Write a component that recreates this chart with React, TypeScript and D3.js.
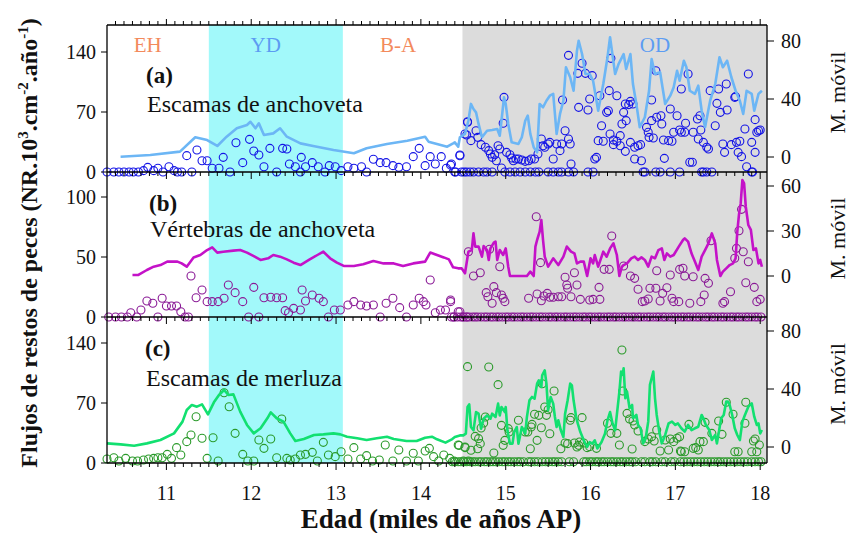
import React from "react";
import * as d3 from "d3";

// edad (miles de años AP)
const ageTicks = [11, 12, 13, 14, 15, 16, 17, 18];
const leftTicksA = [0, 70, 140];
const rightTicksA = [0, 40, 80];
const leftTicksB = [0, 50, 100];
const rightTicksB = [0, 30, 60];
const leftTicksC = [0, 70, 140];
const rightTicksC = [0, 40, 80];

const zoneNames = ["EH", "YD", "B-A", "OD"];
const ydSpan = [11.5, 13.08];
const odSpan = [14.49, 18.08];

// (a) escamas de anchoveta: flujo [edad, valor]
const fluxA: [number, number][] = [
  [10.3, 0], [10.38, 0], [10.44, 0], [10.5, 0], [10.56, 0], [10.61, 0], [10.67, 0], [10.73, 1.6],
  [10.78, 5.4], [10.85, 1.6], [10.9, 4.3], [10.96, 0], [11.03, 6.2], [11.09, 1.6], [11.13, 0],
  [11.18, 0], [11.24, 19.1], [11.3, 0], [11.36, 25.7], [11.42, 13.2], [11.48, 13.2], [11.54, 4.3],
  [11.62, 4.3], [11.67, 17.1], [11.75, 0], [11.82, 34.2], [11.9, 10.9], [11.98, 38.1], [12.03, 24.5],
  [12.09, 19.8], [12.15, 6.2], [12.22, 27.6], [12.3, 0], [12.37, 27.6], [12.42, 26.8], [12.45, 9.3],
  [12.52, 6.2], [12.58, 0], [12.59, 17.1], [12.64, 6.2], [12.72, 10.9], [12.79, 6.2], [12.87, 0],
  [12.92, 7.4], [12.99, 6.2], [13.06, 1.6], [13.14, 6.2], [13.21, 4.3], [13.3, 6.2], [13.36, 0],
  [13.44, 14.8], [13.52, 10.9], [13.59, 10.9], [13.67, 7.4], [13.74, 5.4], [13.83, 6.2], [13.91, 17.9],
  [13.98, 27.6], [14.05, 7.4], [14.11, 17.9], [14.17, 9.3], [14.24, 17.9], [14.3, 4.3], [14.36, 9.3],
  [14.41, 0], [14.46, 19.8], [14.51, 0], [14.54, 43.2], [14.55, 58.7],
  [14.46, 19], [14.55, 58], [14.52, 44.3], [14.59, 36.6], [14.65, 48.2], [14.67, 40.4], [14.71, 31.9],
  [14.76, 28.8], [14.8, 24.9], [14.82, 21], [14.84, 17.1], [14.87, 20.2], [14.89, 13.2], [14.91, 30.7],
  [14.93, 26.8], [14.97, 56.8], [14.98, 87.1], [14.95, 4.7], [15.01, 22.9], [15.05, 20.2], [15.07, 16.3],
  [15.09, 13.2], [15.12, 15.2], [15.15, 15.2], [15.19, 14], [15.23, 12.4], [15.27, 13.2], [15.3, 15.2],
  [15.34, 15.2], [15.38, 21], [15.42, 38.5], [15.44, 30.7], [15.46, 28.8], [15.5, 32.7], [15.52, 34.6],
  [15.56, 15.2], [15.6, 32.7], [15.64, 24.9], [15.66, 32.7], [15.7, 48.2], [15.74, 38.5], [15.76, 32.7],
  [15.77, 9.3], [15.67, 84], [15.74, 136.1], [15.86, 75.4], [15.85, 115.1], [15.9, 126.8], [15.94, 115.1],
  [15.97, 72.3], [15.99, 85.2], [16.02, 112.4], [16.05, 15.2], [16.07, 17.1], [16.09, 36.6], [16.11, 89],
  [16.13, 54], [16.15, 35.8], [16.19, 69.6], [16.21, 71.5], [16.22, 94.9], [16.23, 44.3], [16.24, 132.6],
  [16.27, 31.9], [16.31, 89], [16.41, 79.3], [16.45, 78.6], [16.47, 82.4], [16.5, 79.3], [16.39, 69.6],
  [16.42, 59.9], [16.37, 56], [16.35, 42.4], [16.27, 37.3], [16.31, 35.8], [16.35, 30.7], [16.41, 24.1],
  [16.47, 34.6], [16.52, 28.8], [16.56, 30.7], [16.59, 31.9], [16.52, 15.2], [16.6, 13.2], [16.66, 52.1],
  [16.68, 46.3], [16.69, 40.4], [16.74, 39.7], [16.72, 59.9], [16.78, 63.8], [16.83, 65.7], [16.84, 56],
  [16.86, 37.3], [16.92, 36.6], [16.94, 73.5], [16.96, 35.8], [16.87, 15.9], [16.98, 46.3], [17.02, 65.7],
  [17.05, 49], [17.07, 46.3], [17.12, 56.8], [17.11, 46.3], [17.17, 11.3], [17.2, 11.3], [17.21, 46.3],
  [17.26, 61.8], [17.29, 65.7], [17.27, 38.5], [17.3, 49], [17.33, 34.6], [17.37, 28.8], [17.39, 26.8],
  [17.15, 114.3], [17.07, 96.8], [16.72, 84], [16.77, 118.2], [17.49, 80.1], [17.47, 54], [17.41, 94.9],
  [17.51, 96.8], [17.53, 69.6], [17.6, 102.7], [17.61, 72.3], [17.66, 31.9], [17.7, 87.1], [17.71, 87.9],
  [17.56, 32.7], [17.58, 22.9], [17.72, 34.6], [17.76, 35.8], [17.82, 50.2], [17.86, 114.3], [17.9, 34.6],
  [17.94, 61.1], [17.96, 46.3], [17.98, 48.2], [18.0, 49], [17.74, 22.9], [17.78, 17.9], [17.84, 6.2],
  [17.94, 22.9], [14.35, 8],
];
const zeroAgesA = [
  14.4, 14.48, 14.54, 14.58, 14.62, 14.68, 14.74, 14.78, 14.84, 14.99, 15.05, 15.11, 15.17, 15.23,
  15.29, 15.35, 15.39, 15.5, 15.56, 15.62, 15.66, 15.74, 15.8, 15.97, 16.03, 16.62, 16.64, 16.77,
  16.82, 16.94, 17.05, 17.31, 17.33, 17.37, 17.43, 17.9, 17.91,
];
// (a) media móvil [edad, valor]
const movilA: [number, number][] = [
  [10.46, 0.2], [10.81, 1.4], [11.16, 3.7], [11.34, 13.6], [11.48, 11.7], [11.6, 7.6], [11.71, 14],
  [11.83, 19.8], [11.95, 22.1], [11.99, 24.3], [12.05, 19.8], [12.09, 23.2], [12.15, 15.2], [12.26, 16.3],
  [12.34, 19.8], [12.42, 14], [12.58, 9.4], [12.73, 7.6], [12.97, 4.8], [13.21, 2.6], [13.36, 6],
  [13.6, 9], [13.84, 11.2], [14.05, 14], [14.09, 10.6], [14.31, 7.1], [14.38, 9.4], [14.4, 10.1],
  [14.44, 7.1], [14.46, 13.6], [14.52, 15.9], [14.56, 25], [14.59, 36.6], [14.62, 33.1], [14.65, 30.8],
  [14.68, 22.8], [14.72, 13.6], [14.78, 18.1], [14.84, 18.6], [14.9, 19.3], [14.93, 14.7], [14.95, 25],
  [14.98, 41.2], [15.0, 36.6], [15.03, 22.8], [15.07, 10.1], [15.15, 9], [15.19, 13.6], [15.23, 25],
  [15.26, 28.5], [15.29, 15.9], [15.33, 6.7], [15.37, 3.2], [15.4, 36.6], [15.44, 34.3], [15.48, 38.8],
  [15.52, 42.3], [15.56, 43.5], [15.6, 15.9], [15.64, 29.7], [15.68, 38.8], [15.71, 61.9], [15.76, 55],
  [15.8, 45.7], [15.84, 73.3], [15.86, 80.2], [15.9, 71], [15.94, 57.2], [15.99, 57.2], [16.03, 52.6],
  [16.09, 31.9], [16.15, 50.3], [16.2, 68.8], [16.23, 82.6], [16.29, 57.2], [16.33, 64.1], [16.39, 71],
  [16.42, 60.7], [16.47, 71], [16.5, 50.3], [16.54, 36.6], [16.58, 20.5], [16.64, 27.4], [16.69, 45.7],
  [16.72, 67.6], [16.76, 57.2], [16.82, 58.4], [16.88, 36.6], [16.94, 42.3], [16.98, 48.1], [17.02, 59.5],
  [17.05, 52.6], [17.1, 66.4], [17.13, 61.9], [17.17, 45.7], [17.23, 43.5], [17.27, 49.2], [17.31, 31.9],
  [17.35, 20.5], [17.41, 38.8], [17.47, 50.3], [17.52, 68.8], [17.56, 61.9], [17.61, 66.4], [17.66, 55],
  [17.71, 45.7], [17.76, 38.8], [17.8, 29.7], [17.84, 45.7], [17.9, 43.5], [17.93, 31.9], [17.98, 43.5],
  [18.02, 45.7],
];

// (b) vértebras de anchoveta
const fluxB: [number, number][] = [
  [10.32, 0], [10.4, 0], [10.47, 0], [10.54, 0], [10.58, 3.6], [10.65, 0], [10.7, 5.8], [10.77, 13.3],
  [10.84, 11.4], [10.9, 0], [10.95, 15.6], [11.0, 9.2], [11.06, 9.2], [11.12, 9.2], [11.17, 4.4],
  [11.22, 0], [11.26, 0], [11.29, 34.2], [11.35, 16.1], [11.42, 22.5], [11.48, 12.8], [11.54, 12.8],
  [11.61, 12.8], [11.68, 15.6], [11.73, 26.7], [11.81, 20.3], [11.9, 12.8], [11.97, 0], [12.03, 24.7],
  [12.09, 0], [12.15, 16.1], [12.23, 16.4], [12.3, 16.1], [12.37, 16.1], [12.4, 5.3], [12.44, 3.6],
  [12.5, 7.2], [12.58, 5.8], [12.6, 22.5], [12.64, 13.3], [12.72, 18.3], [12.8, 15.6], [12.85, 12.8],
  [12.91, 0], [12.98, 5.8], [13.05, 5.8], [13.14, 10], [13.21, 12.8], [13.29, 10], [13.36, 9.2],
  [13.44, 10], [13.52, 0], [13.59, 11.4], [13.67, 15.6], [13.75, 7.8], [13.83, 0], [13.91, 10],
  [13.98, 15.6], [14.03, 12.8], [14.06, 10], [14.11, 30.8], [14.17, 3.6], [14.23, 5.8], [14.29, 5.8],
  [14.35, 12.8], [14.39, 0], [14.44, 4.4], [14.5, 0], [14.54, 0],
  [14.35, 14.2], [14.46, 4.4], [14.56, 54.4], [14.62, 34.2], [14.7, 36.9], [14.77, 20.3], [14.79, 16.9],
  [14.84, 11.4], [14.86, 25.3], [14.89, 20.3], [14.93, 41.9], [14.95, 18.3], [14.97, 15.6], [14.99, 12.8],
  [14.81, 56.4], [15.27, 15.6], [15.36, 83.6], [15.41, 45.3], [15.37, 19.2], [15.42, 13.6], [15.45, 17.5],
  [15.49, 19.7], [15.52, 16.4], [15.56, 16.4], [15.62, 16.9], [15.66, 16.9], [15.7, 33.1], [15.72, 26.7],
  [15.73, 23.9], [15.77, 16.9], [15.81, 36.9], [15.84, 26.7], [15.88, 14.7], [15.99, 14.2], [16.03, 14.7],
  [16.11, 14.7], [16.1, 24.7], [16.16, 39.7], [16.22, 39.7], [16.25, 67.5], [16.39, 42.5], [16.47, 34.2],
  [16.52, 32.2], [16.56, 23.1], [16.61, 12.8], [16.64, 13.3], [16.68, 15], [16.7, 23.9], [16.77, 23.9],
  [16.78, 38.6], [16.82, 13.3], [16.85, 19.7], [16.9, 24.4], [16.94, 35], [16.96, 15.6], [16.98, 12.8],
  [17.04, 12.8], [17.05, 39.7], [17.09, 40.6], [17.11, 34.2], [17.17, 11.4], [17.21, 33.6], [17.3, 12.8],
  [17.34, 18.3], [17.35, 32.2], [17.39, 28.1], [17.42, 63.6], [17.56, 11.4], [17.58, 12.8], [17.65, 21.1],
  [17.7, 48.9], [17.72, 57.2], [17.75, 71.9], [17.78, 89.7], [17.8, 54.4], [17.86, 46.1], [17.83, 28.6],
  [17.93, 24.7], [17.96, 12.8], [18.0, 14.7],
];
const zeroAgesB = [
  14.36, 14.39, 14.43, 14.47, 14.5, 14.54, 14.57, 14.61, 14.64, 14.67, 14.71, 14.75, 14.78, 14.82,
  14.85, 14.89, 14.92, 14.96, 15.0, 15.03, 15.07, 15.1, 15.14, 15.18, 15.21, 15.25, 15.29, 15.32,
  15.36, 15.4, 15.43, 15.47, 15.51, 15.54, 15.58, 15.61, 15.65, 15.69, 15.72, 15.76, 15.8, 15.83,
  15.87, 15.91, 15.94, 15.98, 16.01, 16.05, 16.09, 16.12, 16.16, 16.2, 16.23, 16.27, 16.3, 16.34,
  16.38, 16.41, 16.45, 16.49, 16.52, 16.56, 16.59, 16.63, 16.67, 16.7, 16.74, 16.78, 16.81, 16.85,
  16.88, 16.92, 16.96, 16.99, 17.03, 17.07, 17.1, 17.14, 17.17, 17.21, 17.25, 17.28, 17.32, 17.36,
  17.39, 17.43, 17.46, 17.5, 17.54, 17.57, 17.61, 17.65, 17.68, 17.72, 17.75, 17.79, 17.83, 17.86,
  17.9, 17.94, 17.97, 18.01,
];
const movilB: [number, number][] = [
  [10.6, 0.7], [10.67, 0.7], [10.77, 4], [10.85, 6.2], [10.93, 7.3], [11.01, 9.6], [11.13, 9.6],
  [11.18, 8.4], [11.24, 6.2], [11.32, 12.4], [11.4, 14], [11.48, 17.3], [11.54, 19.1], [11.6, 15.6],
  [11.67, 16.2], [11.79, 16.9], [11.87, 17.3], [11.95, 15.6], [12.03, 13.3], [12.11, 10.7], [12.2, 11.8],
  [12.26, 14], [12.34, 12.9], [12.42, 11.1], [12.5, 8.9], [12.58, 7.3], [12.68, 10.7], [12.78, 14],
  [12.85, 16.2], [12.93, 11.8], [13.01, 8.9], [13.09, 6.7], [13.21, 6.7], [13.32, 7.8], [13.44, 10],
  [13.56, 8.4], [13.68, 8.4], [13.79, 6.7], [13.91, 8.4], [14.05, 9.6], [14.11, 15.6], [14.19, 14],
  [14.27, 12.4], [14.33, 11.1], [14.38, 5.8], [14.44, 5.1], [14.48, 5.1], [14.52, 1.8], [14.56, 16.2],
  [14.6, 17.3], [14.62, 28.4], [14.64, 19.6], [14.68, 19.6], [14.72, 12.9], [14.74, 20], [14.78, 17.3],
  [14.8, 10.7], [14.82, 18.4], [14.86, 22.2], [14.88, 22.9], [14.9, 10.7], [14.93, 17.3], [14.97, 14],
  [15.0, 18.4], [15.03, 6.2], [15.05, 0], [15.13, 0], [15.25, 0], [15.29, 2.9], [15.33, 0], [15.35, 19.6],
  [15.37, 24], [15.4, 29.6], [15.42, 37.3], [15.44, 24], [15.46, 12.9], [15.5, 6.2], [15.56, 11.8],
  [15.62, 7.3], [15.68, 12.9], [15.72, 19.6], [15.77, 16.2], [15.81, 15.1], [15.84, 8.4], [15.88, 9.6],
  [15.92, 9.6], [15.96, 0], [16.0, 11.8], [16.03, 8.4], [16.05, 14], [16.09, 6.2], [16.15, 16.2],
  [16.19, 12.9], [16.23, 18.4], [16.27, 21.8], [16.31, 14], [16.34, 0], [16.37, 6.2], [16.39, 7.3],
  [16.43, 8.4], [16.48, 11.8], [16.52, 12.9], [16.56, 10.7], [16.6, 12.4], [16.64, 10.7], [16.68, 6.2],
  [16.72, 12.9], [16.76, 11.8], [16.8, 17.3], [16.84, 18.4], [16.87, 10.7], [16.9, 15.1], [16.94, 12.9],
  [16.98, 14], [17.04, 19.6], [17.09, 24], [17.11, 25.1], [17.15, 22.9], [17.19, 15.1], [17.23, 9.6],
  [17.27, 4], [17.31, 12.9], [17.35, 17.3], [17.39, 21.8], [17.43, 28.4], [17.47, 21.8], [17.49, 10.7],
  [17.53, 0], [17.56, 2.9], [17.6, 5.1], [17.64, 7.3], [17.68, 8.4], [17.71, 11.8], [17.73, 29.6],
  [17.75, 41.1], [17.77, 48.4], [17.79, 64], [17.81, 61.8], [17.83, 46.2], [17.86, 34], [17.89, 30.7],
  [17.92, 17.3], [17.95, 18.4], [17.98, 8.4], [18.0, 10.7], [18.02, 6.2],
];

// (c) escamas de merluza
const fluxC: [number, number][] = [
  [10.3, 4.7], [10.38, 6.2], [10.44, 2.3], [10.52, 5.4], [10.6, 2.3], [10.66, 2.3], [10.73, 3.5],
  [10.79, 4.7], [10.85, 5.4], [10.9, 6.2], [10.95, 6.2], [11.01, 10.1], [11.06, 5.4], [11.12, 17.9],
  [11.17, 9.3], [11.24, 24.9], [11.29, 32.7], [11.35, 54], [11.42, 28.8], [11.48, 5.4], [11.55, 29.5],
  [11.61, 2.3], [11.68, 82], [11.74, 65.7], [11.81, 34.6], [11.9, 10.1], [11.96, 2.3], [12.03, 2.3],
  [12.09, 26.8], [12.15, 17.1], [12.23, 28], [12.3, 6.2], [12.36, 51.3], [12.42, 5.4], [12.46, 3.5],
  [12.52, 4.7], [12.58, 9.3], [12.64, 10.1], [12.72, 12.4], [12.78, 2.3], [12.85, 24.1], [12.91, 9.3],
  [12.99, 7.4], [13.06, 13.2], [13.14, 4.7], [13.21, 17.9], [13.29, 4.7], [13.36, 8.6], [13.43, 2.3],
  [13.51, 3.5], [13.58, 21], [13.67, 2.3], [13.74, 15.2], [13.83, 2.3], [13.91, 11.3], [13.97, 2.3],
  [14.05, 14], [14.1, 17.1], [14.15, 7.4], [14.21, 2.3], [14.27, 9.3], [14.34, 5.4], [14.39, 2.3],
  [14.44, 21], [14.5, 2.3], [14.52, 17.9], [14.55, 112.4], [14.56, 2.3],
  [14.8, 112], [14.91, 91.4], [14.45, 20.6], [14.52, 18.7], [14.59, 14.8], [14.67, 16.7], [14.7, 22.6],
  [14.68, 28.4], [14.64, 31.1], [14.71, 40.8], [14.76, 53.7], [14.74, 46.7], [14.95, 43.9], [14.99, 26.4],
  [14.97, 20.6], [15.03, 40.1], [15.04, 36.2], [14.86, 11.7], [15.15, 49.8], [15.23, 36.2], [15.26, 36.2],
  [15.3, 42], [15.31, 45.1], [15.34, 56.8], [15.29, 16.7], [15.37, 26.4], [15.39, 55.6], [15.42, 41.2],
  [15.43, 92.5], [15.46, 65.3], [15.48, 55.6], [15.5, 62.2], [15.52, 34.2], [15.57, 84], [15.65, 16.7],
  [15.7, 23.3], [15.73, 22.6], [15.77, 52.9], [15.76, 49.8], [15.81, 23.3], [15.84, 18.7], [15.86, 20.6],
  [15.87, 24.5], [15.9, 52.9], [15.92, 23.3], [15.96, 17.9],
  [15.99, 19.1], [16.07, 17.1], [16.2, 46.3], [16.24, 34.6], [16.31, 34.6], [16.34, 21], [16.37, 131.8],
  [16.38, 84], [16.43, 57.9], [16.46, 51.3], [16.49, 16.3], [16.5, 49], [16.52, 44.3], [16.56, 37.3],
  [16.64, 24.9], [16.68, 28], [16.72, 30.7], [16.75, 25.7], [16.78, 38.5], [16.82, 14], [16.92, 15.2],
  [16.88, 26.8], [16.94, 28], [16.98, 24.9], [17.02, 28.8], [17.05, 30.7], [17.06, 14], [17.07, 13.2],
  [17.11, 13.2], [17.16, 45.1], [17.21, 17.1], [17.24, 17.9], [17.27, 15.2], [17.29, 24.9], [17.33, 24.9],
  [17.35, 47.4], [17.43, 34.6], [17.51, 49], [17.55, 33.4], [17.6, 70.8], [17.68, 56.8], [17.7, 13.2],
  [17.74, 13.2], [17.82, 46.3], [17.83, 70.8], [17.9, 13.2], [17.92, 25.7], [17.94, 28], [17.96, 13.2],
  [17.99, 21],
];
const zeroAgesC = [
  14.37, 14.4, 14.44, 14.47, 14.51, 14.54, 14.58, 14.61, 14.64, 14.68, 14.71, 14.75, 14.78, 14.82,
  14.85, 14.88, 14.92, 14.96, 14.99, 15.03, 15.06, 15.1, 15.14, 15.17, 15.21, 15.27, 15.3, 15.34,
  15.38, 15.43, 15.47, 15.51, 15.55, 15.58, 15.62, 15.66, 15.75, 15.8, 15.92, 15.95, 15.99, 16.02,
  16.06, 16.09, 16.13, 16.16, 16.2, 16.24, 16.27, 16.31, 16.35, 16.38, 16.42, 16.46, 16.49, 16.53,
  16.6, 16.64, 16.7, 16.73, 16.77, 16.84, 16.88, 16.95, 16.99, 17.06, 17.1, 17.14, 17.18, 17.22,
  17.26, 17.3, 17.34, 17.38, 17.42, 17.46, 17.5, 17.53, 17.57, 17.61, 17.65, 17.69, 17.73, 17.77,
  17.81, 17.85, 17.9, 17.94, 17.98, 18.01,
];
const movilC: [number, number][] = [
  [10.3, 2.5], [10.46, 1.8], [10.62, 0.9], [10.77, 2.5], [10.93, 4.8], [11.09, 9.4], [11.19, 17.5],
  [11.24, 25.5], [11.3, 29], [11.36, 27.8], [11.42, 29.4], [11.49, 22.5], [11.56, 30.8], [11.62, 35.9],
  [11.68, 39.3], [11.73, 35.9], [11.79, 36.3], [11.87, 24.4], [11.95, 15.2], [12.03, 9.4], [12.11, 12.9],
  [12.19, 19.8], [12.23, 23.9], [12.3, 19.8], [12.38, 17.5], [12.46, 9.4], [12.52, 4.1], [12.62, 5.5],
  [12.74, 8.3], [12.85, 8.7], [12.97, 9.4], [13.05, 8.7], [13.13, 7.1], [13.25, 6], [13.36, 4.8],
  [13.48, 6], [13.6, 7.1], [13.68, 5.5], [13.83, 4.1], [13.95, 4.1], [14.05, 6.4], [14.13, 7.1],
  [14.19, 5.3], [14.29, 3], [14.37, 5.5], [14.4, 6.9], [14.46, 8], [14.5, 8], [14.53, 9.2], [14.55, 27.6],
  [14.57, 29.4], [14.59, 13.8], [14.62, 11.5], [14.65, 24.1], [14.68, 23], [14.71, 12.6], [14.74, 19.5],
  [14.78, 21.8], [14.82, 19.5], [14.84, 23], [14.88, 20.7], [14.91, 29.9], [14.93, 21.8], [14.95, 27.6],
  [14.99, 24.1], [15.0, 27.6], [15.02, 11.5], [15.05, 2.3], [15.08, 2.3], [15.1, 10.3], [15.13, 13.8],
  [15.15, 2.3], [15.17, 8], [15.19, 13.8], [15.23, 9.2], [15.25, 20.7], [15.28, 32.2], [15.31, 34.5],
  [15.34, 33.3], [15.37, 43.7], [15.39, 46], [15.42, 41.4], [15.43, 49.4], [15.46, 52.9], [15.48, 43.7],
  [15.5, 25.3], [15.53, 34.5], [15.56, 29.9], [15.58, 20.7], [15.6, 13.8], [15.62, 18.4], [15.65, 11.5],
  [15.68, 6.9], [15.7, 23], [15.73, 32.2], [15.76, 43.7], [15.78, 42.5], [15.8, 32.2], [15.83, 20.7],
  [15.85, 16.1], [15.88, 10.3], [15.92, 4.6], [15.96, 0], [15.99, 3.4], [16.02, 2.3], [16.05, 4.6],
  [16.08, -1], [16.13, 3.4], [16.17, 9.2], [16.2, 18.4], [16.23, 24.1], [16.26, 16.1], [16.29, 11.5],
  [16.31, 22.1], [16.34, 38.2], [16.36, 52], [16.38, 49.7], [16.39, 54.3], [16.41, 33.6], [16.43, 38.2],
  [16.46, 26.7], [16.49, 29], [16.5, 19.8], [16.54, 22.1], [16.56, 15.2], [16.59, 12.9], [16.62, 2.5],
  [16.65, 6], [16.68, 17.5], [16.7, 42.8], [16.72, 47.4], [16.74, 52], [16.76, 33.6], [16.78, 22.1],
  [16.81, 10.6], [16.84, 2.5], [16.88, 8.3], [16.92, 16.3], [16.96, 17.5], [17.0, 15.2], [17.03, 16.3],
  [17.07, 12.9], [17.11, 10.6], [17.15, 15.2], [17.19, 11.7], [17.23, 12.9], [17.27, 14], [17.31, 22.1],
  [17.33, 19.8], [17.36, 15.2], [17.4, 11.7], [17.43, 4.8], [17.47, 8.3], [17.49, 2.5], [17.52, 12.9],
  [17.54, 19.8], [17.57, 22.1], [17.6, 31.3], [17.62, 31.3], [17.64, 29], [17.67, 22.1], [17.7, 12.9],
  [17.73, 8.3], [17.76, 4.8], [17.79, 17.5], [17.82, 22.1], [17.86, 27.8], [17.9, 30.1], [17.93, 20.9],
  [17.96, 15.2], [17.98, 16.3], [18.0, 9.4], [18.02, 11.7],
];

const W = 856;
const H = 533;
const left = 107;
const right = 767;
const serif = "'Liberation Serif', 'Times New Roman', serif";

const x = d3.scaleLinear().domain([11, 18]).range([166.4, 760.2]);

type Panel = {
  top: number;
  bottom: number;
  yL: d3.ScaleLinear<number, number>;
  yR: d3.ScaleLinear<number, number>;
  leftTicks: number[];
  rightTicks: number[];
  flux: [number, number][];
  zeroAges: number[];
  zeroValue: number;
  movil: [number, number][];
  dot: string;
  lineColor: string;
  tag: string;
  title: string;
  tagY: number;
  titleY: number;
  titleX: number;
};

const panels: Panel[] = [
  {
    top: 25, bottom: 172,
    yL: d3.scaleLinear().domain([0, 140]).range([172, 52]),
    yR: d3.scaleLinear().domain([0, 80]).range([157, 41]),
    leftTicks: leftTicksA, rightTicks: rightTicksA,
    flux: fluxA, zeroAges: zeroAgesA, zeroValue: 0, movil: movilA,
    dot: "#1414e6", lineColor: "#6cb6f5",
    tag: "(a)", title: "Escamas de anchoveta", tagY: 83, titleY: 112, titleX: 147,
  },
  {
    top: 172, bottom: 317,
    yL: d3.scaleLinear().domain([0, 100]).range([317, 197]),
    yR: d3.scaleLinear().domain([0, 60]).range([276, 186]),
    leftTicks: leftTicksB, rightTicks: rightTicksB,
    flux: fluxB, zeroAges: zeroAgesB, zeroValue: 0, movil: movilB,
    dot: "#8a1a96", lineColor: "#c412c8",
    tag: "(b)", title: "Vértebras de anchoveta", tagY: 211, titleY: 237, titleX: 150,
  },
  {
    top: 317, bottom: 463,
    yL: d3.scaleLinear().domain([0, 140]).range([463, 343]),
    yR: d3.scaleLinear().domain([0, 80]).range([447, 331]),
    leftTicks: leftTicksC, rightTicks: rightTicksC,
    flux: fluxC, zeroAges: zeroAgesC, zeroValue: 1.5, movil: movilC,
    dot: "#2a9a2a", lineColor: "#12e070",
    tag: "(c)", title: "Escamas de merluza", tagY: 356, titleY: 386, titleX: 146,
  },
];

const minorTicks = d3.range(104, 181).map((i) => i / 10);

export default function App() {
  const top = panels[0].top;
  const bottom = panels[2].bottom;
  const zoneX = [10.78, 12.17, 13.73, 16.76];
  const zoneColors = ["#f38a5c", "#5c9cf2", "#f38a5c", "#5c9cf2"];

  return (
    <svg
      width={W}
      height={H}
      style={{ position: "absolute", left: 0, top: 0, background: "#fff", fontFamily: serif }}
      fontFamily={serif}
    >
      {/* zonas */}
      <rect x={x(ydSpan[0])} y={top} width={x(ydSpan[1]) - x(ydSpan[0])} height={bottom - top} fill="#a2f9fa" />
      <rect x={x(odSpan[0])} y={top} width={right - x(odSpan[0])} height={bottom - top} fill="#dcdcdc" />
      {zoneNames.map((n, i) => (
        <text key={n} x={x(zoneX[i])} y={52} textAnchor="middle" fontSize={21} fill={zoneColors[i]}>
          {n}
        </text>
      ))}

      {panels.map((p, pi) => {
        const line = d3
          .line<[number, number]>()
          .x((d) => x(d[0]))
          .y((d) => p.yR(d[1]));
        return (
          <g key={pi}>
            <text x={p.titleX - 1} y={p.tagY} fontSize={23} fontWeight="bold" fill="#111">
              {p.tag}
            </text>
            <text x={p.titleX} y={p.titleY} fontSize={24} fill="#111">
              {p.title}
            </text>
            {p.flux.map((d, i) => (
              <circle key={"f" + i} cx={x(d[0])} cy={p.yL(d[1])} r={4} fill="none" stroke={p.dot} strokeWidth={1.1} />
            ))}
            {p.zeroAges.map((a, i) => (
              <circle key={"z" + i} cx={x(a)} cy={p.yL(p.zeroValue)} r={4} fill="none" stroke={p.dot} strokeWidth={1.1} />
            ))}
            <path d={line(p.movil) || ""} fill="none" stroke={p.lineColor} strokeWidth={2.6} strokeLinejoin="round" />

            {/* eje inferior del panel */}
            <line x1={left} x2={right} y1={p.bottom} y2={p.bottom} stroke="#000" strokeWidth={1.3} />
            {minorTicks.map((t) => {
              const major = Math.abs(t - Math.round(t)) < 1e-6;
              return (
                <line key={"t" + t} x1={x(t)} x2={x(t)} y1={p.bottom} y2={p.bottom + (major ? 7 : 4)} stroke="#000" strokeWidth={1} />
              );
            })}
            {/* eje izquierdo */}
            {p.leftTicks.map((t) => (
              <g key={"l" + t}>
                <line x1={left - 6} x2={left} y1={p.yL(t)} y2={p.yL(t)} stroke="#000" strokeWidth={1} />
                <text x={left - 11} y={p.yL(t) + 7} textAnchor="end" fontSize={20} fill="#111">
                  {t}
                </text>
              </g>
            ))}
            {/* eje derecho */}
            {p.rightTicks.map((t) => (
              <g key={"r" + t}>
                <line x1={right} x2={right + 7} y1={p.yR(t)} y2={p.yR(t)} stroke="#000" strokeWidth={1} />
                <text x={right + 14} y={p.yR(t) + 7} fontSize={20} fill="#111">
                  {t}
                </text>
              </g>
            ))}
            <text
              transform={`translate(845,${(p.top + p.bottom) / 2 - 6}) rotate(-90)`}
              textAnchor="middle"
              fontSize={22}
              fill="#111"
            >
              M. móvil
            </text>
          </g>
        );
      })}

      {/* marco */}
      <line x1={left} x2={right} y1={top} y2={top} stroke="#000" strokeWidth={1.3} />
      {minorTicks.map((t) => {
        const major = Math.abs(t - Math.round(t)) < 1e-6;
        return <line key={"tt" + t} x1={x(t)} x2={x(t)} y1={top} y2={top - (major ? 6 : 4)} stroke="#000" strokeWidth={1} />;
      })}
      <line x1={left} x2={left} y1={top} y2={bottom} stroke="#000" strokeWidth={1.3} />
      <line x1={right} x2={right} y1={top} y2={bottom} stroke="#000" strokeWidth={1.3} />

      {ageTicks.map((t) => (
        <text key={"x" + t} x={x(t)} y={500} textAnchor="middle" fontSize={20} fill="#111">
          {t}
        </text>
      ))}
      <text x={441} y={528} textAnchor="middle" fontSize={27} fontWeight="bold" fill="#111">
        Edad (miles de años AP)
      </text>
      <text transform="translate(37,243) rotate(-90)" textAnchor="middle" fontSize={24} fontWeight="bold" fill="#111">
        Flujos de restos de peces (NR.10
        <tspan dy={-9} fontSize={15}>3</tspan>
        <tspan dy={9}>.cm</tspan>
        <tspan dy={-9} fontSize={15}>-2</tspan>
        <tspan dy={9}>.año</tspan>
        <tspan dy={-9} fontSize={15}>-1</tspan>
        <tspan dy={9}>)</tspan>
      </text>
    </svg>
  );
}
